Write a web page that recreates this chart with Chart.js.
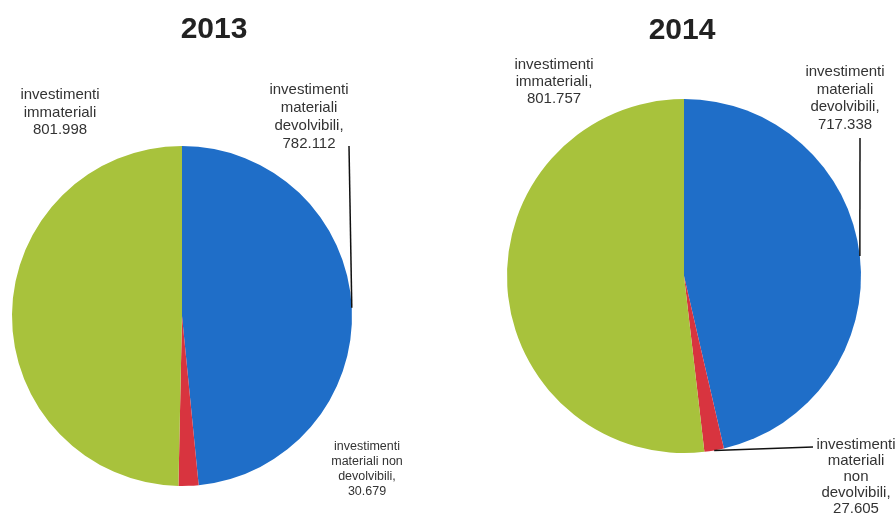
<!DOCTYPE html>
<html>
<head>
<meta charset="utf-8">
<script src="https://cdn.jsdelivr.net/npm/chart.js@4"></script>
<style>
	html, body { margin: 0; padding: 0; background: #fff; }
	#wrap { position: relative; width: 895px; height: 515px; overflow: hidden; }
	canvas { position: absolute; top: 0; }
	#pie2013 { left: 0; }
	#pie2014 { left: 447px; }
</style>
</head>
<body>
<div id="wrap">
	<canvas id="pie2013" width="447" height="515"></canvas>
	<canvas id="pie2014" width="448" height="515"></canvas>
</div>
<script>
// slice order: materiali devolvibili, materiali non devolvibili, immateriali
const years = ["2013", "2014"];
const values2013 = [782.112, 30.679, 801.998];
const values2014 = [717.338, 27.605, 801.757];
const labels2013 = [
	["investimenti", "materiali", "devolvibili,", "782.112"],
	["investimenti", "materiali non", "devolvibili,", "30.679"],
	["investimenti", "immateriali", "801.998"]
];
const labels2014 = [
	["investimenti", "materiali", "devolvibili,", "717.338"],
	["investimenti", "materiali", "non", "devolvibili,", "27.605"],
	["investimenti", "immateriali,", "801.757"]
];
const sliceColors = ["#1f6ec8", "#d8343f", "#a8c23c"];

/**
 * Draws the year heading, the slice labels and their leader lines
 */
const pieLabels = {
	id: "pieLabels",
	afterDatasetsDraw(chart, args, opts) {
		const ctx = chart.ctx;
		const arcs = chart.getDatasetMeta(0).data;
		ctx.save();
		ctx.fillStyle = "#222";
		ctx.textAlign = "center";
		ctx.textBaseline = "middle";
		ctx.font = "bold 30px 'Liberation Sans', Arial, sans-serif";
		ctx.fillText(opts.year, opts.titleX, opts.titleY);

		opts.labels.forEach((lines, i) => {
			const pos = opts.pos[i];
			ctx.font = pos.size + "px 'Liberation Sans', Arial, sans-serif";
			ctx.fillStyle = "#333";
			lines.forEach((t, j) => ctx.fillText(t, pos.x, pos.y + j * pos.lh));
			if (!pos.line) return;
			// leader line ends at the middle of the slice's outer edge
			const a = arcs[i];
			const mid = (a.startAngle + a.endAngle) / 2;
			const ex = a.x + Math.cos(mid) * a.outerRadius;
			const ey = a.y + Math.sin(mid) * a.outerRadius;
			ctx.strokeStyle = "#111";
			ctx.lineWidth = 1.5;
			ctx.beginPath();
			ctx.moveTo(pos.line[0], pos.line[1]);
			ctx.lineTo(ex, ey);
			ctx.stroke();
		});
		ctx.restore();
	}
};

function createPie(canvasId, values, labels, padding, labelOpts) {
	return new Chart(document.getElementById(canvasId), {
		type: "pie",
		data: {
			labels: labels.map(l => l.join(" ")),
			datasets: [{
				data: values,
				backgroundColor: sliceColors,
				borderWidth: 0,
				hoverBorderWidth: 0,
				hoverOffset: 0
			}]
		},
		options: {
			responsive: false,
			animation: false,
			layout: { padding: padding },
			plugins: {
				legend: { display: false },
				tooltip: { enabled: false },
				title: { display: false },
				pieLabels: labelOpts
			}
		},
		plugins: [pieLabels]
	});
}

createPie("pie2013", values2013, labels2013,
	{ left: 12, right: 95, top: 146, bottom: 29 },
	{
		year: years[0], titleX: 214, titleY: 30,
		labels: labels2013,
		pos: [
			{ x: 309, y: 90, lh: 18, size: 15, line: [349, 146] },
			{ x: 367, y: 447, lh: 15, size: 12.5 },
			{ x: 60, y: 95, lh: 17.5, size: 15 }
		]
	});

createPie("pie2014", values2014, labels2014,
	{ left: 60, right: 34, top: 99, bottom: 62 },
	{
		year: years[1], titleX: 235, titleY: 31,
		labels: labels2014,
		pos: [
			{ x: 398, y: 72, lh: 17.5, size: 15, line: [413, 138] },
			{ x: 409, y: 445, lh: 16, size: 15, line: [366, 447] },
			{ x: 107, y: 65, lh: 17, size: 15 }
		]
	});
</script>
</body>
</html>
